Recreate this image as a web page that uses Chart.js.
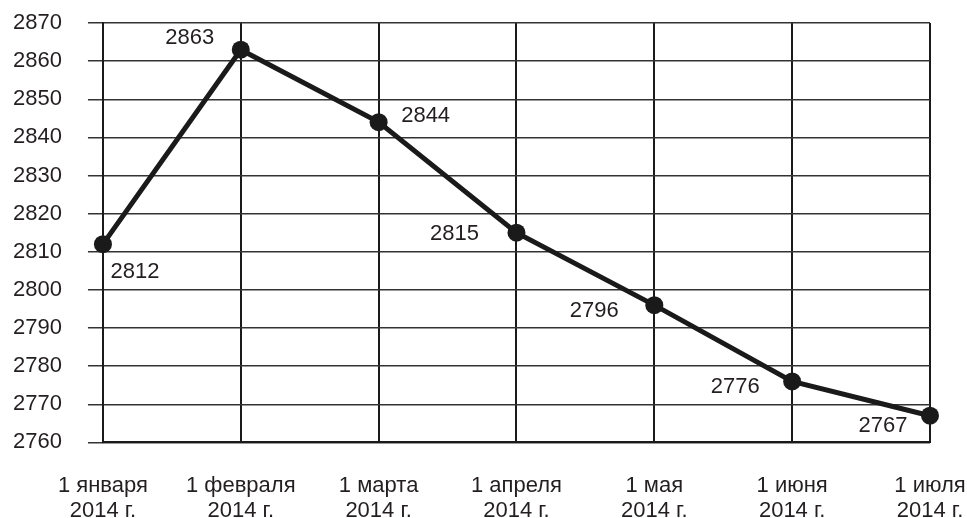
<!DOCTYPE html>
<html>
<head>
<meta charset="utf-8">
<script src="https://cdn.jsdelivr.net/npm/chart.js@4"></script>
<style>
  html, body { margin: 0; padding: 0; background: #fff; }
  #wrap { width: 967px; height: 518px; }
</style>
</head>
<body>
<div id="wrap"><canvas id="myLineChart"></canvas></div>
<script>
  // data
  var months = [
      ['1 января', '2014 г.'],
      ['1 февраля', '2014 г.'],
      ['1 марта', '2014 г.'],
      ['1 апреля', '2014 г.'],
      ['1 мая', '2014 г.'],
      ['1 июня', '2014 г.'],
      ['1 июля', '2014 г.']
  ];
  var values = [2812, 2863, 2844, 2815, 2796, 2776, 2767];
  var yMin = 2760, yMax = 2870, yStep = 10;

  // where each value label sits relative to its point (dx, dy)
  var labelOffsets = [[32, 28], [-51, -12], [47, -6], [-62, 1], [-60, 6], [-57, 6], [-47, 10]];

  var fontFamily = '"Liberation Sans", Arial, Helvetica, sans-serif';

  var valueLabels = {
      id: 'valueLabels',
      afterDatasetsDraw: function (chart) {
          var ctx = chart.ctx;
          var meta = chart.getDatasetMeta(0);
          ctx.save();
          ctx.font = '22px ' + fontFamily;
          ctx.fillStyle = '#231f20';
          ctx.textAlign = 'center';
          ctx.textBaseline = 'middle';
          meta.data.forEach(function (pt, i) {
              var off = labelOffsets[i];
              ctx.fillText(String(values[i]), pt.x + off[0], pt.y + off[1]);
          });
          ctx.restore();
      }
  };

  var ctxLine = document.getElementById('myLineChart').getContext('2d');
  var lineChart = new Chart(ctxLine, {
      type: 'line',
      data: {
          labels: months,
          datasets: [{
              data: values,
              borderColor: '#1a1a1a',
              backgroundColor: '#1a1a1a',
              borderWidth: 5,
              pointRadius: 9,
              pointHoverRadius: 9,
              pointBorderWidth: 0,
              tension: 0,
              clip: false
          }]
      },
      options: {
          responsive: true,
          maintainAspectRatio: false,
          animation: false,
          events: [],
          // the axes reserve tick padding twice, so pull the edges back
          layout: { autoPadding: false, padding: { left: -13, right: 37, top: 23, bottom: -37 } },
          plugins: {
              legend: { display: false },
              tooltip: { enabled: false }
          },
          scales: {
              x: {
                  offset: false,
                  grid: { color: '#1a1a1a', lineWidth: 2, drawTicks: false },
                  border: { color: '#1a1a1a', width: 2 },
                  ticks: {
                      color: '#231f20',
                      padding: 31,
                      maxRotation: 0,
                      autoSkip: false,
                      font: { family: fontFamily, size: 22, lineHeight: 1.15 }
                  },
                  afterFit: function (scale) {
                      scale.paddingLeft = 0;
                      scale.paddingRight = 0;
                  }
              },
              y: {
                  min: yMin,
                  max: yMax,
                  grid: { color: '#333', lineWidth: 1.5, tickLength: 15, tickColor: '#333' },
                  border: { color: '#1a1a1a', width: 2 },
                  ticks: {
                      stepSize: yStep,
                      color: '#231f20',
                      padding: 26,
                      font: { family: fontFamily, size: 22 },
                      callback: function (v) { return String(v); }
                  },
                  afterFit: function (scale) {
                      scale.paddingTop = 12;
                      scale.paddingBottom = 12;
                  }
              }
          }
      },
      plugins: [valueLabels]
  });
</script>
</body>
</html>
